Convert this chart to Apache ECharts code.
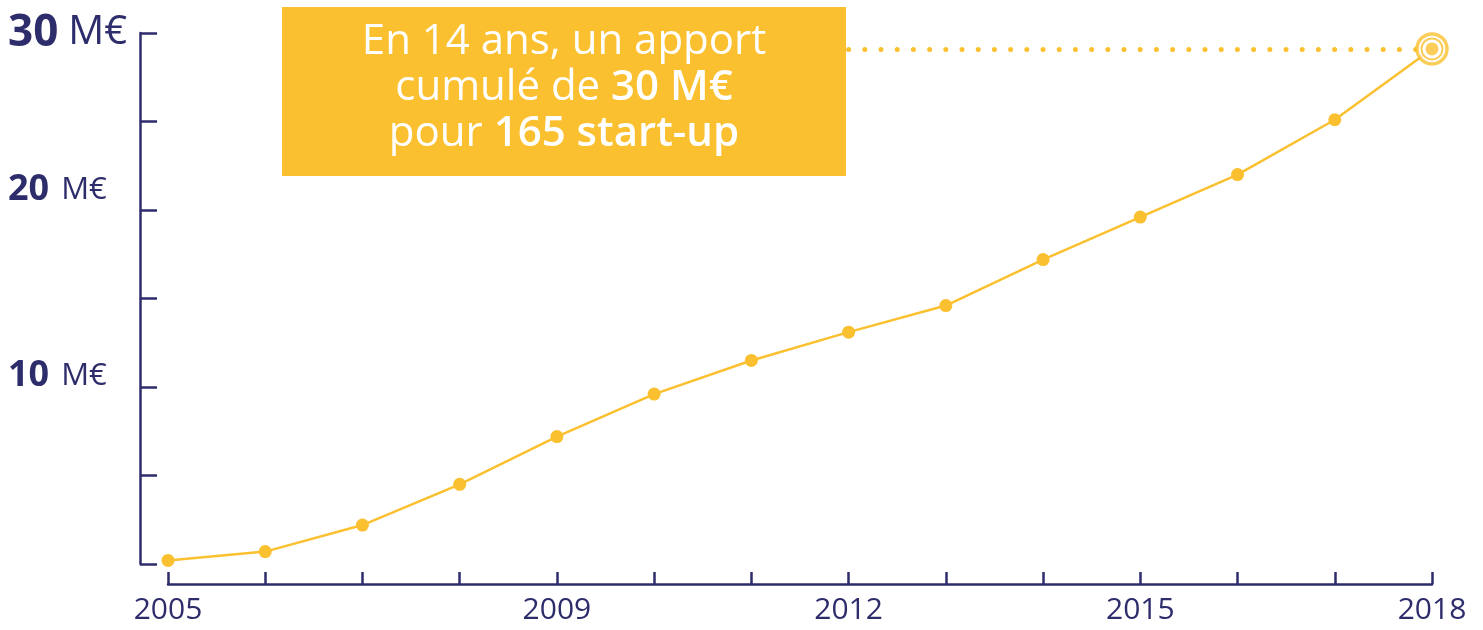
<!DOCTYPE html>
<html>
<head>
<meta charset="utf-8">
<script src="https://cdn.jsdelivr.net/npm/echarts@6/dist/echarts.min.js"></script>
<style>
html,body{margin:0;padding:0;background:#fff;}
#chart{width:1483px;height:630px;}
</style>
</head>
<body>
<div id="chart"></div>
<script>
// ---- data ----
const years = ['2005','2006','2007','2008','2009','2010','2011','2012','2013','2014','2015','2016','2017','2018'];
const cumulativeMEur = [0.2, 0.7, 2.2, 4.5, 7.2, 9.6, 11.5, 13.1, 14.6, 17.2, 19.6, 22.0, 25.1, 29.1];
const xLabelYears = ['2005','2009','2012','2015','2018'];
const yLabelValues = [10, 20, 30];
const calloutStartYear = '2012';
const calloutLines = ['En 14 ans, un apport', 'cumulé de ', '30 M€', 'pour ', '165 start-up'];

const NAVY = '#2e2d6c';
const YELLOW = '#fbc02f';
const FONT = '"Open Sans", "Noto Sans", sans-serif';

const chart = echarts.init(document.getElementById('chart'));
const lastIdx = years.length - 1;
const lastPoint = [years[lastIdx], cumulativeMEur[lastIdx]];

chart.setOption({
  animation: false,
  backgroundColor: '#fff',
  grid: { left: 168, right: 51, top: 33, bottom: 66, containLabel: false },
  xAxis: {
    type: 'category',
    data: years,
    boundaryGap: false,
    offset: 20,
    axisLine: { show: true, onZero: false, lineStyle: { color: NAVY, width: 2.5 } },
    axisTick: { show: true, inside: true, length: 12, interval: 0, alignWithLabel: true, lineStyle: { color: NAVY, width: 2.5 } },
    axisLabel: {
      interval: (idx, val) => xLabelYears.includes(val),
      color: NAVY, fontFamily: FONT, fontSize: 30, margin: 11
    },
    splitLine: { show: false }
  },
  yAxis: {
    type: 'value',
    min: 0, max: 30, interval: 5,
    offset: 28,
    axisLine: { show: true, onZero: false, lineStyle: { color: NAVY, width: 2.5 } },
    axisTick: { show: true, inside: true, length: 17, lineStyle: { color: NAVY, width: 2.5 } },
    splitLine: { show: false },
    axisLabel: {
      align: 'left',
      margin: 132,
      formatter: function (v) {
        if (!yLabelValues.includes(v)) return '';
        if (v === 30) return '{b30|' + v + '}{m30|M€}';
        if (v === 20) return '{b|' + v + '}{m|M€}\n{sp40| }';
        return '{b|' + v + '}{m|M€}\n{sp22| }';
      },
      rich: {
        b30: { fontFamily: FONT, fontWeight: 'bold', fontSize: 44, color: NAVY, lineHeight: 46 },
        m30: { fontFamily: FONT, fontSize: 40, color: NAVY, lineHeight: 46, padding: [0, 0, 0, 10] },
        b: { fontFamily: FONT, fontWeight: 'bold', fontSize: 36, color: NAVY, lineHeight: 38 },
        m: { fontFamily: FONT, fontSize: 31, color: NAVY, lineHeight: 38, padding: [0, 0, 0, 12] },
        sp40: { fontSize: 2, lineHeight: 40 },
        sp22: { fontSize: 2, lineHeight: 22 }
      }
    }
  },
  series: [
    {
      type: 'line',
      data: cumulativeMEur,
      symbol: 'circle',
      symbolSize: 13,
      showSymbol: true,
      lineStyle: { color: YELLOW, width: 2.5 },
      itemStyle: { color: YELLOW },
      z: 3,
      markLine: {
        silent: true,
        symbol: 'none',
        label: { show: false },
        lineStyle: { color: YELLOW, width: 5, type: [0, 16.2], cap: 'round' },
        data: [[
          { coord: [calloutStartYear, cumulativeMEur[lastIdx]] },
          { coord: lastPoint }
        ]]
      }
    },
    {
      type: 'scatter', data: [lastPoint], symbol: 'circle', symbolSize: 30,
      itemStyle: { color: '#fff', borderColor: YELLOW, borderWidth: 3.5 }, z: 5, silent: true
    },
    {
      type: 'scatter', data: [lastPoint], symbol: 'circle', symbolSize: 21,
      itemStyle: { color: '#fff', borderColor: YELLOW, borderWidth: 2 }, z: 6, silent: true
    },
    {
      type: 'scatter', data: [lastPoint], symbol: 'circle', symbolSize: 13,
      itemStyle: { color: YELLOW }, z: 7, silent: true
    }
  ],
  graphic: [
    {
      type: 'rect', left: 282, top: 7, z: 10,
      shape: { width: 564, height: 169 },
      style: { fill: YELLOW }
    },
    {
      type: 'text', z: 11,
      x: 564, y: 88,
      style: {
        text: '{r|' + calloutLines[0] + '}\n{r|' + calloutLines[1] + '}{bb|' + calloutLines[2] + '}\n{r|' + calloutLines[3] + '}{bb|' + calloutLines[4] + '}',
        align: 'center', verticalAlign: 'middle',
        rich: {
          r: { fontFamily: FONT, fontSize: 42, fill: '#fff', lineHeight: 46, align: 'center' },
          bb: { fontFamily: FONT, fontSize: 42, fontWeight: 600, fill: '#fff', lineHeight: 46, align: 'center' }
        }
      }
    }
  ]
});
</script>
</body>
</html>
